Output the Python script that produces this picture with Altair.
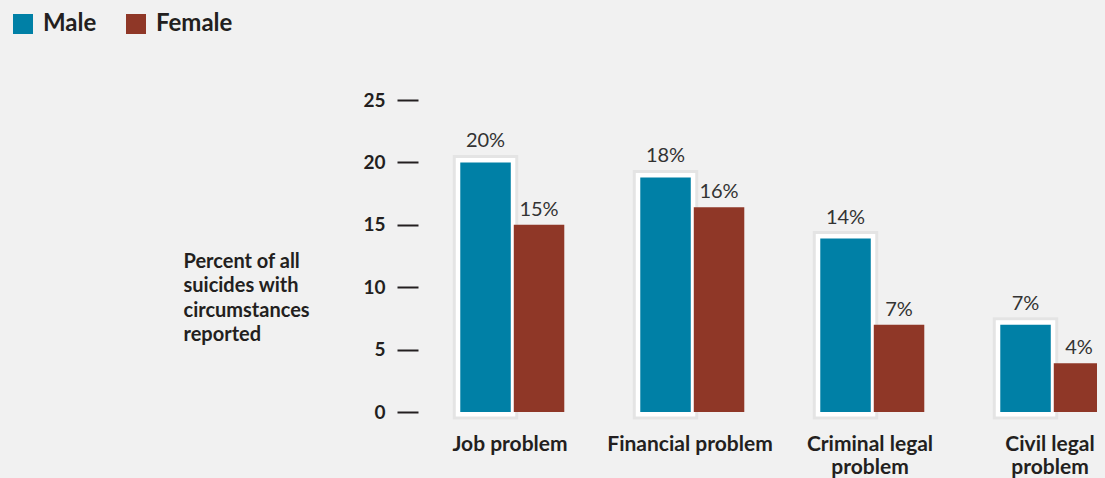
import altair as alt
import pandas as pd
from altair.utils.html import HTML_TEMPLATE

categories = ["Job problem", "Financial problem", "Criminal legal problem", "Civil legal problem"]
genders = ["Male", "Female"]
male_values = [20.0, 18.8, 13.9, 7.0]
female_values = [15.0, 16.4, 7.0, 3.9]
male_labels = ["20%", "18%", "14%", "7%"]
female_labels = ["15%", "16%", "7%", "4%"]
y_ticks = [0, 5, 10, 15, 20, 25]
axis_title = ["Percent of all", "suicides with", "circumstances", "reported"]

BLUE = "#0080a6"
RED = "#8f3727"
TEXT = "#231f20"
BG = "#f1f1f1"
FONT = "Lato"

rows = []
for i, c in enumerate(categories):
    rows.append(dict(category=c, gender="Male", value=male_values[i], label=male_labels[i]))
    rows.append(dict(category=c, gender="Female", value=female_values[i], label=female_labels[i]))
df = pd.DataFrame(rows)

x_enc = alt.X(
    "category:N",
    sort=categories,
    scale=alt.Scale(range=[0, 720], paddingInner=0, paddingOuter=0),
    axis=alt.Axis(
        title=None, domain=False, ticks=False, tickSize=0, labelAngle=0,
        labelFont=FONT, labelFontSize=21, labelFontWeight="bold", labelColor=TEXT,
        labelBaseline="alphabetic", labelPadding=38, labelLineHeight=23,
        labelLimit=400, labelOverlap=False,
        labelExpr="length(datum.label) > 18 ? [substring(datum.label, 0, indexof(datum.label, ' problem')), 'problem'] : datum.label",
    ),
)
xoff_enc = alt.XOffset(
    "gender:N", sort=genders,
    scale=alt.Scale(domain=genders, paddingInner=0.056, paddingOuter=0.71, align=0.53),
)
y_enc = alt.Y(
    "value:Q",
    scale=alt.Scale(domain=[0, 25], nice=False, zero=True),
    axis=alt.Axis(
        values=y_ticks, domain=False, grid=False, offset=2,
        tickSize=21, tickWidth=2, tickColor=TEXT,
        labelFont=FONT, labelFontSize=19, labelFontWeight="bold", labelColor=TEXT,
        labelPadding=12, labelOverlap=False,
        title=axis_title, titleAngle=0, titleAlign="left", titleBaseline="alphabetic",
        titleX=-235, titleY=167, titleFont=FONT, titleFontSize=20,
        titleFontWeight="bold", titleColor=TEXT, titleLineHeight=24.5,
    ),
)
color_enc = alt.Color(
    "gender:N", sort=genders,
    scale=alt.Scale(domain=genders, range=[BLUE, RED]),
    legend=alt.Legend(
        orient="none", legendX=-409, legendY=-88, direction="horizontal",
        title=None, symbolType="square", symbolSize=400, symbolStrokeWidth=0,
        symbolOpacity=1, labelFont=FONT, labelFontSize=24, labelFontWeight="bold",
        labelColor=TEXT, labelOffset=8, columnPadding=27, padding=0,
    ),
)

base = alt.Chart(df)
male_only = alt.datum.gender == "Male"
female_only = alt.datum.gender == "Female"

shadow = base.transform_filter(male_only).mark_bar(
    fill="#000000", fillOpacity=0, stroke="#000000", strokeOpacity=0.05, strokeWidth=15
).encode(x=x_enc, xOffset=xoff_enc, y=y_enc)

frame = base.transform_filter(male_only).mark_bar(
    fill="white", stroke="white", strokeWidth=9
).encode(x=x_enc, xOffset=xoff_enc, y=y_enc)

bars = base.mark_bar().encode(x=x_enc, xOffset=xoff_enc, y=y_enc, color=color_enc)

text_male = base.transform_filter(male_only).mark_text(
    baseline="alphabetic", dy=-15, font=FONT, fontSize=20, color="#333333"
).encode(x=x_enc, xOffset=xoff_enc, y=y_enc, text="label:N")

text_female = base.transform_filter(female_only).mark_text(
    baseline="alphabetic", dy=-9, font=FONT, fontSize=20, color="#333333"
).encode(x=x_enc, xOffset=xoff_enc, y=y_enc, text="label:N")

chart = alt.layer(shadow, frame, bars, text_male, text_female).properties(
    width=720, height=312,
    autosize=alt.AutoSizeParams(type="none"),
    padding={"left": 412, "top": 92, "right": 0, "bottom": 66},
    background=BG,
).configure_view(stroke=None)


class PageTemplate:
    """Standard Altair page, with the page background matching the chart."""

    def render(self, **kwargs):
        html = HTML_TEMPLATE.render(**kwargs)
        style = (
            "<style>html, body { background: " + BG + "; overflow: hidden; }"
            " #vis, .vega-embed { overflow: visible !important; }"
            " .vega-embed svg { flex-shrink: 0; overflow: visible; }</style>"
        )
        return html.replace("<head>", "<head>" + style, 1)


chart.save("out.html", embed_options={"renderer": "svg", "actions": False},
           template=PageTemplate())
